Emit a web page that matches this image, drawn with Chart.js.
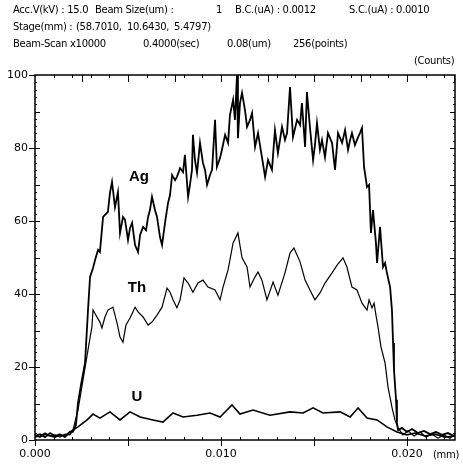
<!DOCTYPE html>
<html>
<head>
<meta charset="utf-8">
<script src="https://cdn.jsdelivr.net/npm/chart.js@4/dist/chart.umd.min.js"></script>
<style>
  html, body { margin: 0; padding: 0; background: #fff; }
  #wrap { position: relative; width: 463px; height: 466px; }
  canvas { position: absolute; left: 0; top: 0; }
  .t { position: absolute; white-space: pre; font-family: "DejaVu Sans", sans-serif; font-size: 10px; letter-spacing: -0.3px; color: #000; line-height: 12px; }
</style>
</head>
<body>
<div id="wrap">
  <canvas id="c" width="463" height="466"></canvas>
  <div class="t" style="left:13px;top:4px">Acc.V(kV) : 15.0</div>
  <div class="t" style="left:95px;top:4px">Beam Size(um) :</div>
  <div class="t" style="left:216px;top:4px">1</div>
  <div class="t" style="left:235px;top:4px">B.C.(uA) : 0.0012</div>
  <div class="t" style="left:349px;top:4px">S.C.(uA) : 0.0010</div>
  <div class="t" style="left:13px;top:21px">Stage(mm) :</div>
  <div class="t" style="left:76px;top:21px">(58.7010,</div>
  <div class="t" style="left:127px;top:21px">10.6430,</div>
  <div class="t" style="left:174px;top:21px">5.4797)</div>
  <div class="t" style="left:13px;top:38px">Beam-Scan x10000</div>
  <div class="t" style="left:143px;top:38px">0.4000(sec)</div>
  <div class="t" style="left:227px;top:38px">0.08(um)</div>
  <div class="t" style="left:293px;top:38px">256(points)</div>
  <div class="t" style="left:414px;top:55px">(Counts)</div>
  <div class="t" style="left:433px;top:449px">(mm)</div>
</div>
<script>
// distance along the scan (mm) and counts
const agX = [0, 0.00027, 0.00054, 0.00081, 0.00108, 0.00134, 0.00161, 0.00188, 0.00204, 0.00220,
  0.00231, 0.00247, 0.00269, 0.00285, 0.00296, 0.00312, 0.00323, 0.00339, 0.00349, 0.00366,
  0.00392, 0.00403, 0.00414, 0.00430, 0.00446, 0.00457, 0.00473, 0.00484, 0.00500, 0.00511,
  0.00522, 0.00538, 0.00554, 0.00565, 0.00581, 0.00597, 0.00608, 0.00618, 0.00629, 0.00645,
  0.00656, 0.00672, 0.00683, 0.00699, 0.00715, 0.00726, 0.00737, 0.00753, 0.00763, 0.00780,
  0.00796, 0.00806, 0.00823, 0.00833, 0.00844, 0.00849, 0.00860, 0.00871, 0.00887, 0.00903,
  0.00914, 0.00925, 0.00941, 0.00952, 0.00968, 0.00978, 0.00995, 0.01005, 0.01022, 0.01038,
  0.01048, 0.01065, 0.01075, 0.01086, 0.01091, 0.01102, 0.01113, 0.01129, 0.01140, 0.01156,
  0.01167, 0.01183, 0.01199, 0.01220, 0.01237, 0.01253, 0.01274, 0.01290, 0.01306, 0.01328,
  0.01344, 0.01355, 0.01371, 0.01387, 0.01409, 0.01425, 0.01435, 0.01452, 0.01462, 0.01478,
  0.01495, 0.01505, 0.01516, 0.01532, 0.01543, 0.01559, 0.01575, 0.01597, 0.01613, 0.01629,
  0.01651, 0.01667, 0.01683, 0.01694, 0.01704, 0.01720, 0.01737, 0.01747, 0.01758, 0.01769,
  0.01785, 0.01796, 0.01806, 0.01817, 0.01833, 0.01839, 0.01855, 0.01871, 0.01882, 0.01892,
  0.01909, 0.01919, 0.01925, 0.01930, 0.01941, 0.01946, 0.01952, 0.01973, 0.02000, 0.02027,
  0.02059, 0.02091, 0.02124, 0.02156, 0.02188, 0.02220, 0.02253];
const agY = [1.1, 1.6, 0.8, 1.9, 1.1, 1.6, 0.8, 2.2, 2.2, 4.1,
  10.1, 15, 21.1, 35.6, 44.7, 47.1, 49.3, 52.1, 51.5, 61.1,
  62.5, 67.7, 70.7, 63.8, 67.9, 56.7, 61.1, 60.3, 54.8, 58.1,
  59.5, 53.4, 51.5, 56.2, 58.4, 57.5, 61.1, 63.0, 66.6, 63.0,
  61.1, 55.6, 53.4, 59.5, 64.9, 67.1, 72.6, 71.2, 72.1, 74.5,
  73.4, 78.1, 66.6, 69.9, 74.0, 83.6, 76.7, 73.2, 81.4, 75.9,
  74.0, 69.9, 72.6, 74.0, 87.7, 74.8, 77.3, 79.5, 83.6, 81.4,
  89.0, 93.2, 87.7, 100, 82.7, 92.3, 95.1, 90.4, 85.8, 87.7,
  89.6, 80.3, 84.1, 77.5, 72.1, 76.7, 74.0, 84.9, 78.6, 85.8,
  82.2, 84.1, 96.7, 83.0, 87.7, 86.3, 92.3, 80.3, 95.3, 85.8,
  76.7, 80.8, 86.8, 79.5, 82.2, 77.5, 84.1, 81.4, 74.0, 84.1,
  81.4, 84.9, 79.5, 82.2, 84.1, 80.8, 83.0, 84.1, 85.5, 74.8,
  69.3, 69.9, 56.7, 63.0, 54.0, 48.5, 58.4, 47.4, 48.5, 45.8,
  41.9, 35.6, 26.6, 19.2, 11.0, 4.7, 2.7, 3.3, 2.2, 3.0,
  1.9, 2.5, 1.6, 2.2, 1.4, 1.9, 1.1];

const thX = [0, 0.00027, 0.00054, 0.00081, 0.00108, 0.00134, 0.00161, 0.00188, 0.00204, 0.00231,
  0.00258, 0.00285, 0.00306, 0.00312, 0.00333, 0.00349, 0.00360, 0.00376, 0.00392, 0.00419,
  0.00441, 0.00457, 0.00473, 0.00489, 0.00511, 0.00538, 0.00554, 0.00581, 0.00608, 0.00629,
  0.00656, 0.00683, 0.00710, 0.00726, 0.00742, 0.00763, 0.00780, 0.00801, 0.00823, 0.00849,
  0.00876, 0.00903, 0.00930, 0.00968, 0.00995, 0.01011, 0.01038, 0.01065, 0.01091, 0.01113,
  0.01140, 0.01156, 0.01183, 0.01199, 0.01220, 0.01247, 0.01280, 0.01306, 0.01344, 0.01371,
  0.01392, 0.01425, 0.01452, 0.01478, 0.01505, 0.01532, 0.01559, 0.01597, 0.01624, 0.01656,
  0.01677, 0.01704, 0.01731, 0.01758, 0.01785, 0.01796, 0.01812, 0.01823, 0.01833, 0.01844,
  0.01860, 0.01882, 0.01898, 0.01919, 0.01935, 0.01952, 0.01978, 0.02005, 0.02038, 0.02070,
  0.02102, 0.02134, 0.02167, 0.02199, 0.02231, 0.02258];
const thY = [0.8, 1.1, 1.9, 1.1, 1.4, 0.8, 1.6, 1.4, 2.7, 8.2,
  16.4, 24.7, 31.0, 35.6, 33.7, 32.3, 30.7, 33.7, 35.6, 36.4,
  32.1, 28.2, 26.8, 31.5, 33.4, 36.4, 35.1, 33.7, 31.5, 32.3,
  34.2, 36.4, 41.6, 40.5, 38.4, 36.2, 38.4, 44.4, 43.0, 40.5,
  43.0, 43.8, 41.9, 41.1, 38.4, 41.9, 46.6, 54.0, 56.7, 49.9,
  47.4, 41.9, 44.7, 46.0, 43.8, 38.4, 43.3, 39.7, 45.8, 51.2,
  52.6, 48.8, 43.8, 41.1, 38.4, 40.3, 43.0, 45.8, 47.9, 49.9,
  47.4, 41.9, 41.1, 37.5, 35.6, 38.4, 36.2, 37.5, 34.2, 31.0,
  25.5, 21.1, 14.5, 9.0, 5.5, 3.3, 1.4, 2.5, 1.1, 2.2,
  0.8, 1.6, 0.5, 1.4, 0.5, 1.6];

const uX = [0, 0.00027, 0.00054, 0.00081, 0.00108, 0.00134, 0.00161, 0.00188, 0.00231, 0.00280,
  0.00312, 0.00349, 0.00403, 0.00457, 0.00511, 0.00565, 0.00634, 0.00688, 0.00742, 0.00796,
  0.00871, 0.00941, 0.00995, 0.01059, 0.01102, 0.01172, 0.01263, 0.01371, 0.01441, 0.01495,
  0.01548, 0.01640, 0.01694, 0.01737, 0.01785, 0.01839, 0.01892, 0.01946, 0.02000, 0.02043,
  0.02097, 0.02151, 0.02204, 0.02258];
const uY = [1.4, 0.8, 1.6, 1.1, 0.8, 1.4, 1.1, 2.2, 3.6, 5.5,
  7.1, 6.0, 7.7, 5.5, 7.7, 6.3, 5.5, 4.9, 7.4, 6.3,
  6.8, 7.4, 6.3, 9.6, 7.1, 8.2, 6.8, 7.7, 7.4, 8.8,
  7.4, 7.7, 6.3, 8.8, 6.0, 5.5, 3.6, 2.2, 1.4, 1.9,
  1.1, 1.6, 0.8, 1.1];

const curveNames = ['Ag', 'Th', 'U'];
const nameX = [0.00559, 0.00548, 0.00548];
const nameY = [72, 41.6, 11.8];

const xTicks = [0, 0.005, 0.010, 0.015, 0.020];
const xLabels = ['0.000', '', '0.010', '', '0.020'];
const yTicks = [0, 20, 40, 60, 80, 100];

const pts = (xs, ys) => xs.map((v, i) => ({ x: v, y: ys[i] }));

const frame = {
  id: 'frame',
  afterDatasetsDraw(chart) {
    const { ctx, chartArea: a, scales: { x, y } } = chart;
    ctx.save();
    ctx.strokeStyle = '#000';
    ctx.lineWidth = 1;
    ctx.beginPath();
    for (let v = 0.001; v < 0.0226; v += 0.001) {
      const p = Math.round(x.getPixelForValue(v)) + 0.5;
      ctx.moveTo(p, a.bottom); ctx.lineTo(p, a.bottom - 3);
      ctx.moveTo(p, a.top); ctx.lineTo(p, a.top + 3);
    }
    for (let v = 0.0025; v < 0.0226; v += 0.0025) {
      const p = Math.round(x.getPixelForValue(v)) + 0.5;
      ctx.moveTo(p, a.top); ctx.lineTo(p, a.top + 7);
    }
    for (let v = 2; v < 100; v += 2) {
      const p = Math.round(y.getPixelForValue(v)) + 0.5;
      const len = v % 10 === 0 ? 5 : 2;
      ctx.moveTo(a.left, p); ctx.lineTo(a.left + len, p);
      ctx.moveTo(a.right, p); ctx.lineTo(a.right - len, p);
    }
    ctx.stroke();
    ctx.lineWidth = 1.5;
    ctx.strokeRect(a.left, a.top, a.right - a.left, a.bottom - a.top);
    ctx.font = 'bold 15px "Liberation Sans", Arial, sans-serif';
    ctx.fillStyle = '#000';
    ctx.textAlign = 'center';
    ctx.textBaseline = 'middle';
    curveNames.forEach((n, i) => {
      ctx.fillText(n, x.getPixelForValue(nameX[i]), y.getPixelForValue(nameY[i]));
    });
    ctx.restore();
  }
};

const tickFont = { family: '"DejaVu Sans", sans-serif', size: 11 };

new Chart(document.getElementById('c'), {
  type: 'line',
  data: {
    datasets: [
      { label: 'Ag', data: pts(agX, agY), borderColor: '#000', borderWidth: 1.8 },
      { label: 'Th', data: pts(thX, thY), borderColor: '#000', borderWidth: 1.2 },
      { label: 'U', data: pts(uX, uY), borderColor: '#000', borderWidth: 1.6 }
    ]
  },
  options: {
    responsive: false,
    animation: false,
    events: [],
    elements: { point: { radius: 0 }, line: { tension: 0 } },
    layout: { padding: { top: 75, right: 8, left: 0, bottom: 0 } },
    plugins: { legend: { display: false }, tooltip: { enabled: false } },
    scales: {
      x: {
        type: 'linear', min: 0, max: 0.02258,
        afterBuildTicks: s => { s.ticks = xTicks.map(v => ({ value: v })); },
        afterFit: s => { s.height = 26; },
        border: { display: false },
        grid: { drawOnChartArea: false, tickLength: 6, color: '#000' },
        ticks: { color: '#000', font: tickFont, padding: 2, maxRotation: 0,
          callback: (v, i) => xLabels[i] }
      },
      y: {
        min: 0, max: 100,
        afterBuildTicks: s => { s.ticks = yTicks.map(v => ({ value: v })); },
        afterFit: s => { s.width = 35; },
        border: { display: false },
        grid: { drawOnChartArea: false, tickLength: 6, color: '#000' },
        ticks: { color: '#000', font: tickFont, padding: 1 }
      }
    }
  },
  plugins: [frame]
});
</script>
</body>
</html>
